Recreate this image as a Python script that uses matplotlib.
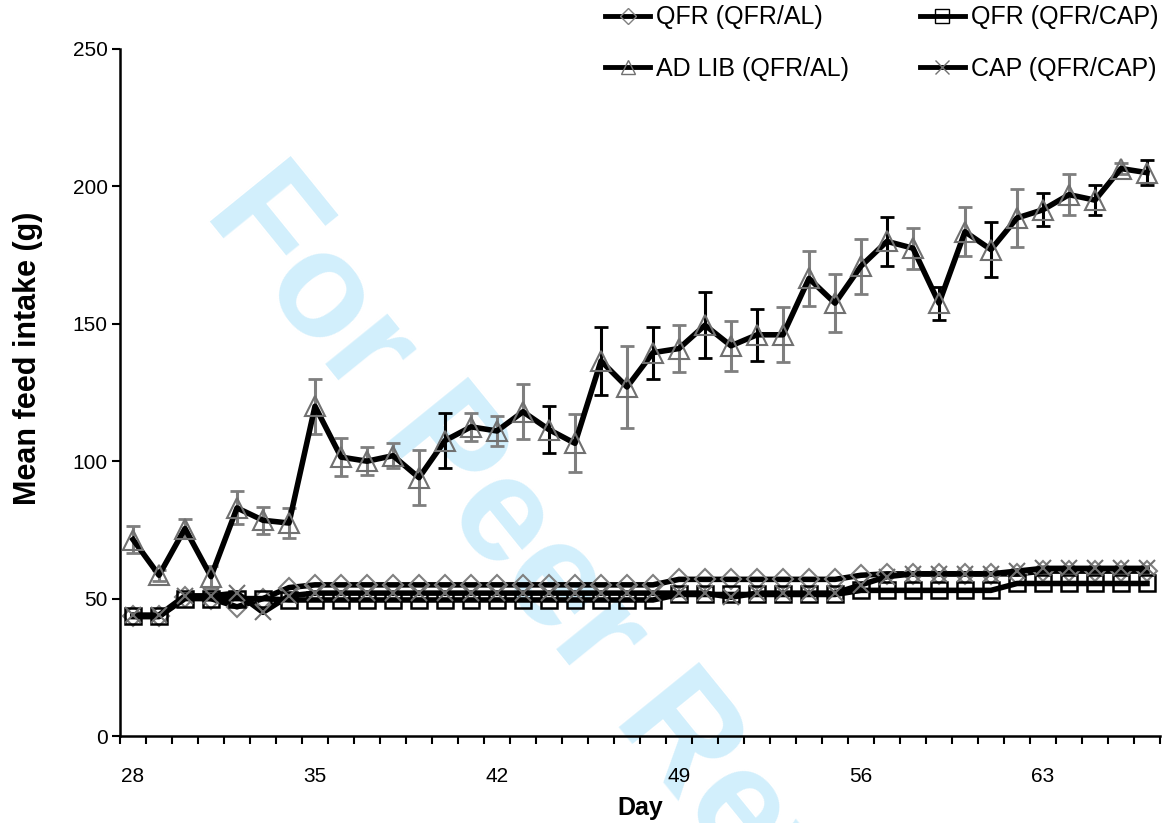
import matplotlib.pyplot as plt
from matplotlib.lines import Line2D

plt.rcParams['font.family'] = ['Liberation Sans', 'DejaVu Sans']

# data (days 28-67)
days = list(range(28, 68))

ad_lib = [71.5, 58.5, 75.5, 58, 83, 78.5, 77.5, 120, 101.5, 100,
          102, 94, 107.5, 112.5, 111, 118, 111.5, 106.5, 136.5, 127,
          139.5, 141, 149.5, 142, 146, 146, 166.5, 157.5, 171, 180,
          177.5, 157.5, 183.5, 177, 188.5, 191.5, 197, 195, 206.5, 205]
ad_lib_err = [5, 2, 3.5, 4, 6, 5, 5.5, 10, 7, 5,
              4.5, 10, 10, 5, 5.5, 10, 8.5, 10.5, 12.5, 15,
              9.5, 8.5, 12, 9, 9.5, 10, 10, 10.5, 10, 9,
              7.5, 6, 9, 10, 10.5, 6, 7.5, 5.5, 2, 4.5]

qfr_al = [43.5, 43.5, 50.5, 50, 47, 50, 54] + [55] * 14 + [57] * 7 + [58.5] + [59] * 6 + [60] * 5
qfr_cap = [43.5, 43.5, 50, 50, 50, 50] + [49.5] * 15 + [51.5] * 7 + [53] * 6 + [55.5] * 6
cap = [44, 44, 51, 51, 52, 45, 51] + [52] * 16 + [50.5] + [52] * 4 + [55, 58] + [59] * 4 + [60] + [61] * 5

labels = ['QFR (QFR/AL)', 'AD LIB (QFR/AL)', 'QFR (QFR/CAP)', 'CAP (QFR/CAP)']
xtick_days = [28, 35, 42, 49, 56, 63]

# days whose error bar is drawn black instead of grey
dark_err_days = [40, 44, 46, 48, 50, 52, 57, 59, 61, 63, 65, 67]

fig = plt.figure(figsize=(11.62, 8.23), dpi=100)
ax = fig.add_axes([120 / 1162, 87 / 823, 1040 / 1162, 687 / 823])

# watermark
ax.text(600 / 1162, 1 - 642 / 823, 'For Peer Review', transform=fig.transFigure,
        fontsize=108, fontweight='bold', color='#d2effc', rotation=-51,
        ha='center', va='center', rotation_mode='anchor', zorder=0, clip_on=False)

lw = 4
ax.plot(days, qfr_al, color='black', lw=lw, marker='D', ms=10, mfc='none',
        mec='#808080', mew=1.5, zorder=3)
ax.plot(days, qfr_cap, color='black', lw=lw, marker='s', ms=12, mfc='none',
        mec='black', mew=1.8, zorder=3)
ax.plot(days, cap, color='black', lw=lw, marker='x', ms=12,
        mec='#707070', mew=1.5, zorder=3)

for dark in (False, True):
    sel = [i for i, d in enumerate(days) if (d in dark_err_days) == dark]
    eb = ax.errorbar([days[i] for i in sel], [ad_lib[i] for i in sel],
                     yerr=[ad_lib_err[i] for i in sel], fmt='none',
                     ecolor='black' if dark else '#7f7f7f',
                     elinewidth=2.2, capsize=5, capthick=2, zorder=2)
    for c in eb[1]:
        c.set_color('black')
ax.plot(days, ad_lib, color='black', lw=lw, marker='^', ms=14, mfc='none',
        mec='#707070', mew=1.5, zorder=4)

ax.set_xlim(27.5, 67.5)
ax.set_ylim(0, 250)
ax.set_yticks(range(0, 251, 50))
ax.set_xticks(xtick_days)
ax.set_xticks([d - 0.5 for d in range(28, 69)], minor=True)
ax.tick_params(axis='x', which='major', length=0, pad=22, labelsize=15)
ax.tick_params(axis='x', which='minor', length=6, width=1.5, direction='out')
ax.tick_params(axis='y', length=6, width=1.5, direction='out', pad=3, labelsize=15)

for s in ['top', 'right']:
    ax.spines[s].set_visible(False)
for s in ['left', 'bottom']:
    ax.spines[s].set_linewidth(1.8)

ax.set_xlabel('Day', fontsize=18, fontweight='bold')
ax.xaxis.set_label_coords(0.5, -0.088)
ax.set_ylabel('Mean feed intake (g)', fontsize=22, fontweight='bold')
ax.yaxis.set_label_coords(-0.074, 0.55)

handles = [
    Line2D([0], [0], color='black', lw=3.5, marker='D', ms=8, mfc='none', mec='#808080'),
    Line2D([0], [0], color='black', lw=3.5, marker='^', ms=10, mfc='none', mec='#707070'),
    Line2D([0], [0], color='black', lw=3.5, marker='s', ms=10, mfc='none', mec='black'),
    Line2D([0], [0], color='black', lw=3.5, marker='x', ms=10, mec='#707070'),
]
fig.legend(handles, labels, ncol=2, loc='upper right', bbox_to_anchor=(1.0, 0.998),
           frameon=False, fontsize=18, handlelength=1.8, handletextpad=0.25,
           columnspacing=2.8, labelspacing=1.1, borderpad=0.15, borderaxespad=0.0)

fig.savefig('out.png', dpi=100)
